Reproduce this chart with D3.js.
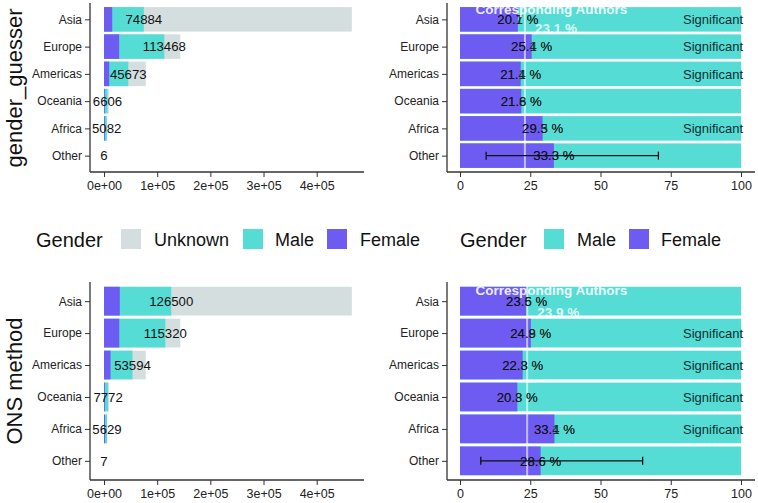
<!DOCTYPE html>
<html><head><meta charset="utf-8">
<script src="https://cdn.jsdelivr.net/npm/d3@7"></script>
<style>
html,body{margin:0;padding:0;background:#fff;}
svg text{font-family:"Liberation Sans",Arial,sans-serif;}
</style></head>
<body><svg id="c" width="758" height="503"></svg>
<script>
// ---------- data ----------
const regions = ["Asia","Europe","Americas","Oceania","Africa","Other"];
const totalAuthors = [466000, 143500, 78500, 9000, 6300, 20];
const ggFemale = [15500, 28480, 9774, 1427, 1500, 2];
const ggKnown = [74884, 113468, 45673, 6606, 5082, 6];
const onsFemale = [29700, 28700, 12220, 1578, 1880, 2];
const onsKnown = [126500, 115320, 53594, 7772, 5629, 7];
const xCountTicks = [0, 100000, 200000, 300000, 400000];
const xCountTickLabels = ["0e+00","1e+05","2e+05","3e+05","4e+05"];
const xPctTicks = [0, 25, 50, 75, 100];
const ggCorrPct = [20.6, 25.5, 21.6, 21.8, 29.4, 33.4];
const ggLabelA = ["20.7 %","25.1 %","21.4 %","21.6 %","29.5 %","33.3 %"];
const ggLabelB = ["20.1 %","25.4 %","21.1 %","21.8 %","29.3 %","33.3 %"];
const ggSignificant = [true, true, true, false, true, false];
const ggRef = 23.1;
const ggOtherCI = [9.3, 70.6];
const onsCorrPct = [23.7, 25.2, 22.3, 20.4, 33.6, 28.7];
const onsLabelA = ["23.5 %","24.9 %","22.8 %","20.3 %","33.4 %","28.6 %"];
const onsLabelB = ["23.6 %","24.8 %","22.3 %","20.8 %","33.1 %","28.6 %"];
const onsSignificant = [false, true, true, true, true, false];
const onsRef = 23.9;
const onsOtherCI = [7.4, 65.0];
const methods = ["gender_guesser","ONS method"];
const genderLegendLeft = ["Unknown","Male","Female"];
const genderLegendRight = ["Male","Female"];

// ---------- style ----------
const col = {Unknown:"#d5dede", Male:"#55ddd5", Female:"#6d5bf2"};
const svg = d3.select("#c");
const axisCol = "#333";

const xCount = d3.scaleLinear().domain([0, 400000]).range([104, 316.7]);
const xPct = d3.scaleLinear().domain([0, 100]).range([460, 741]);

function styleAxis(g){
  g.select(".domain").remove();
  g.selectAll(".tick line").attr("stroke", axisCol).attr("stroke-width", 1);
  g.selectAll(".tick text").attr("fill", "#222").style("font-family","Liberation Sans, Arial, sans-serif");
}

function leftPanel(yTop, yBot, female, known, fmtLabelY) {
  const y = d3.scalePoint().domain(regions).range([yTop, yBot]).padding(0.6);
  const bh = y.step() * 0.9;
  const g = svg.append("g");
  regions.forEach((r, i) => {
    const yc = y(r);
    g.append("rect").attr("x", xCount(0)).attr("y", yc - bh/2)
      .attr("width", xCount(totalAuthors[i]) - xCount(0)).attr("height", bh).attr("fill", col.Unknown);
    g.append("rect").attr("x", xCount(0)).attr("y", yc - bh/2)
      .attr("width", xCount(known[i]) - xCount(0)).attr("height", bh).attr("fill", col.Male);
    g.append("rect").attr("x", xCount(0)).attr("y", yc - bh/2)
      .attr("width", xCount(female[i]) - xCount(0)).attr("height", bh).attr("fill", col.Female);
    g.append("text").attr("x", xCount(known[i])).attr("y", yc).attr("dy", "0.36em")
      .attr("text-anchor", "middle").attr("font-size", 13.2).attr("fill", "#111").text(known[i]);
  });
  const ya = g.append("g").attr("transform", "translate(90,0)")
    .call(d3.axisLeft(y).tickSize(5).tickPadding(3));
  styleAxis(ya); ya.selectAll(".tick text").attr("font-size", 12);
  const xa = g.append("g").attr("transform", `translate(0,${yBot})`)
    .call(d3.axisBottom(xCount).tickValues(xCountTicks).tickFormat((d, i) => xCountTickLabels[i]).tickSize(5).tickPadding(4));
  styleAxis(xa); xa.selectAll(".tick text").attr("font-size", 12.5);
  g.append("line").attr("x1", 90).attr("x2", 90).attr("y1", yTop).attr("y2", yBot).attr("stroke", axisCol).attr("stroke-width", 1.3);
  g.append("line").attr("x1", 90).attr("x2", 364).attr("y1", yBot).attr("y2", yBot).attr("stroke", axisCol).attr("stroke-width", 1.3);
}

function rightPanel(yTop, yBot, pct, labA, labB, sig, ref, ci) {
  const y = d3.scalePoint().domain(regions).range([yTop, yBot]).padding(0.6);
  const bh = y.step() * 0.9;
  const g = svg.append("g");
  regions.forEach((r, i) => {
    const yc = y(r);
    g.append("rect").attr("x", xPct(0)).attr("y", yc - bh/2)
      .attr("width", xPct(100) - xPct(0)).attr("height", bh).attr("fill", col.Male);
    g.append("rect").attr("x", xPct(0)).attr("y", yc - bh/2)
      .attr("width", xPct(pct[i]) - xPct(0)).attr("height", bh).attr("fill", col.Female);
  });
  // reference line
  g.append("line").attr("x1", xPct(ref)).attr("x2", xPct(ref)).attr("y1", yTop).attr("y2", yBot - 4)
    .attr("stroke", "#fff").attr("stroke-opacity", 0.6).attr("stroke-width", 2);
  // error bar for Other
  const yo = y("Other");
  const eb = g.append("g").attr("stroke", "#111").attr("stroke-width", 1.3);
  eb.append("line").attr("x1", xPct(ci[0])).attr("x2", xPct(ci[1])).attr("y1", yo).attr("y2", yo);
  eb.append("line").attr("x1", xPct(ci[0])).attr("x2", xPct(ci[0])).attr("y1", yo - 4).attr("y2", yo + 4);
  eb.append("line").attr("x1", xPct(ci[1])).attr("x2", xPct(ci[1])).attr("y1", yo - 4).attr("y2", yo + 4);
  regions.forEach((r, i) => {
    const yc = y(r);
    [labB[i], labA[i]].forEach(t => {
      g.append("text").attr("x", xPct(pct[i])).attr("y", yc).attr("dy", "0.36em")
        .attr("text-anchor", "middle").attr("font-size", 13.2).attr("fill", "#111").attr("fill-opacity", 0.85).text(t);
    });
    if (sig[i]) {
      g.append("text").attr("x", 743).attr("y", yc).attr("dy", "0.36em")
        .attr("text-anchor", "end").attr("font-size", 13).attr("fill", "#0e2f30").text("Significant");
    }
  });
  const ya0 = y("Asia");
  g.append("text").attr("x", xPct(32.5)).attr("y", ya0 - y.step()*0.2).attr("text-anchor", "middle")
    .attr("font-size", 13.5).attr("font-weight", "bold").attr("fill", "#fff").attr("fill-opacity", 0.9).text("Corresponding Authors");
  g.append("text").attr("x", xPct(ref) + 10).attr("y", ya0 + y.step()*0.5).attr("text-anchor", "start")
    .attr("font-size", 13.5).attr("font-weight", "bold").attr("fill", "#fff").attr("fill-opacity", 0.8).text(ref.toFixed(1) + " %");
  const ya = g.append("g").attr("transform", "translate(447,0)")
    .call(d3.axisLeft(y).tickSize(5).tickPadding(3));
  styleAxis(ya); ya.selectAll(".tick text").attr("font-size", 12);
  const xa = g.append("g").attr("transform", `translate(0,${yBot})`)
    .call(d3.axisBottom(xPct).tickValues(xPctTicks).tickSize(5).tickPadding(4));
  styleAxis(xa); xa.selectAll(".tick text").attr("font-size", 12.5);
  g.append("line").attr("x1", 447).attr("x2", 447).attr("y1", yTop).attr("y2", yBot).attr("stroke", axisCol).attr("stroke-width", 1.3);
  g.append("line").attr("x1", 447).attr("x2", 755).attr("y1", yBot).attr("y2", yBot).attr("stroke", axisCol).attr("stroke-width", 1.3);
}

leftPanel(3, 172, ggFemale, ggKnown);
rightPanel(3, 172, ggCorrPct, ggLabelA, ggLabelB, ggSignificant, ggRef, ggOtherCI);
leftPanel(282, 480, onsFemale, onsKnown);
rightPanel(282, 480, onsCorrPct, onsLabelA, onsLabelB, onsSignificant, onsRef, onsOtherCI);

// method titles
svg.append("text").attr("transform", "translate(22,88) rotate(-90)").attr("text-anchor", "middle")
  .attr("font-size", 22).attr("fill", "#111").text(methods[0]);
svg.append("text").attr("transform", "translate(22,381) rotate(-90)").attr("text-anchor", "middle")
  .attr("font-size", 22).attr("fill", "#111").text(methods[1]);

// legends
function legend(x0, items, swX, txtX) {
  svg.append("text").attr("x", x0).attr("y", 247).attr("font-size", 20).attr("fill", "#111").text("Gender");
  items.forEach((k, i) => {
    svg.append("rect").attr("x", swX[i]).attr("y", 229).attr("width", 20).attr("height", 20).attr("fill", col[k]);
    svg.append("text").attr("x", txtX[i]).attr("y", 246).attr("font-size", 18).attr("fill", "#111").text(k);
  });
}
legend(36, genderLegendLeft, [121, 243, 327], [154, 275, 360]);
legend(460, genderLegendRight, [544, 629], [577, 661]);
</script></body></html>
